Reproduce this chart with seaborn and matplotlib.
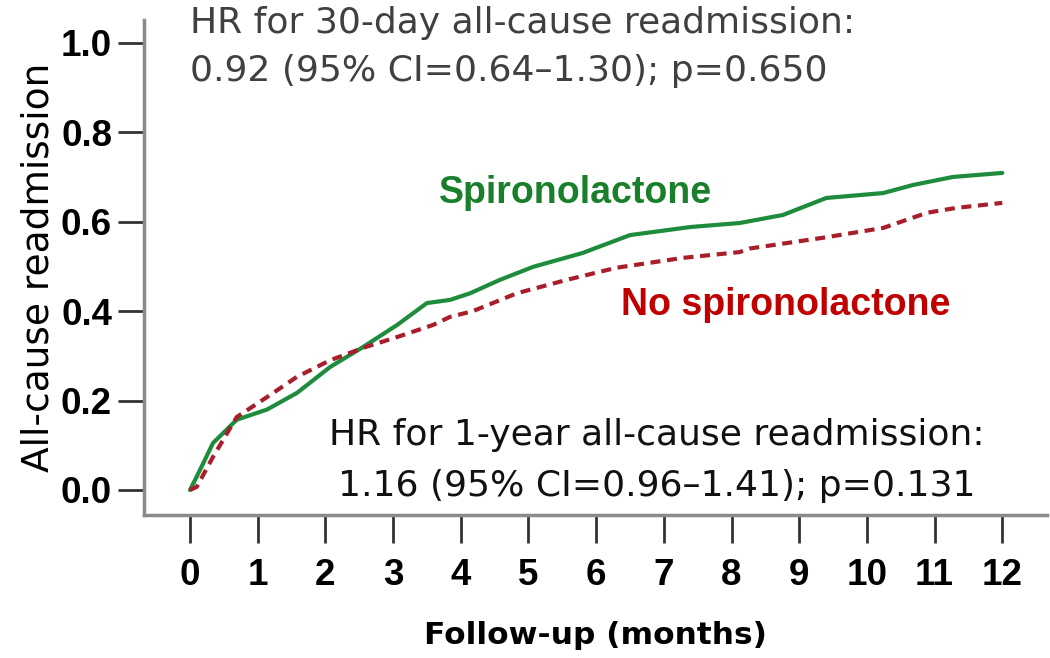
import matplotlib
matplotlib.use("Agg")
import matplotlib.pyplot as plt
import numpy as np
import pandas as pd
import seaborn as sns

# Kaplan-Meier style cumulative readmission
spiro_months = [0.0, 0.1, 0.34, 0.69, 1.14, 1.58, 2.07, 2.56, 3.06, 3.5, 3.84,
                4.14, 4.58, 5.07, 5.8, 6.5, 7.39, 8.12, 8.76, 9.4, 10.24,
                10.68, 11.27, 12.0]
spiro_rate = [0.0, 0.03, 0.105, 0.157, 0.18, 0.217, 0.275, 0.32, 0.369, 0.418,
              0.425, 0.44, 0.47, 0.499, 0.53, 0.57, 0.588, 0.597, 0.615, 0.653,
              0.664, 0.682, 0.70, 0.709]

nospiro_months = [0.0, 0.1, 0.34, 0.69, 1.14, 1.58, 2.07, 2.6, 3.06, 3.59, 3.84,
                  4.18, 4.83, 5.57, 6.3, 7.28, 8.12, 8.27, 9.35, 10.24, 10.89,
                  11.33, 12.0]
nospiro_rate = [0.0, 0.007, 0.074, 0.163, 0.208, 0.253, 0.29, 0.32, 0.342,
                0.369, 0.387, 0.40, 0.44, 0.47, 0.497, 0.519, 0.532, 0.54,
                0.564, 0.586, 0.62, 0.631, 0.642]

groups = ["Spironolactone", "No spironolactone"]
x_ticks = list(range(0, 13))
y_ticks = [0.0, 0.2, 0.4, 0.6, 0.8, 1.0]

hr_30 = ["HR for 30-day all-cause readmission:",
         "0.92 (95% CI=0.64\u20131.30); p=0.650"]
hr_1y = ["HR for 1-year all-cause readmission:",
         "1.16 (95% CI=0.96\u20131.41); p=0.131"]

df = pd.concat([
    pd.DataFrame({"month": spiro_months, "rate": spiro_rate, "group": groups[0]}),
    pd.DataFrame({"month": nospiro_months, "rate": nospiro_rate, "group": groups[1]}),
])

sns.set_style("ticks")
plt.rcParams["font.family"] = ["Liberation Sans", "DejaVu Sans"]
wide = ["DejaVu Sans"]

green = "#1e8c3c"
red = "#a81e2a"

fig = plt.figure(figsize=(10.5, 6.58), dpi=100)
ax = fig.add_axes([0.1371, 0.2173, 0.86, 0.7523])

sns.lineplot(data=df, x="month", y="rate", hue="group", style="group",
             palette={groups[0]: green, groups[1]: red},
             dashes={groups[0]: "", groups[1]: (2.4, 1.6)},
             linewidth=3, legend=False, ax=ax, estimator=None, sort=False)

ax.set_xlim(-0.68, 12.66)
ax.set_ylim(-0.056, 1.051)
ax.set_xticks(x_ticks)
ax.set_yticks(y_ticks)
ax.set_yticklabels([f"{v:.1f}" for v in y_ticks])

for s in ["top", "right"]:
    ax.spines[s].set_visible(False)
for s in ["left", "bottom"]:
    ax.spines[s].set_color("#8a8a8a")
    ax.spines[s].set_linewidth(2.5)

ax.tick_params(axis="x", bottom=True, direction="out", length=20, width=2,
               color="#333333", pad=11, labelsize=26.5, labelcolor="black")
ax.tick_params(axis="y", left=True, direction="out", length=19, width=2,
               color="#333333", pad=4, labelsize=26.5, labelcolor="black")
for lab in ax.get_xticklabels() + ax.get_yticklabels():
    lab.set_fontweight("bold")

ax.set_xlabel("Follow-up (months)", fontsize=22.5, family=wide, fontweight="bold",
              color="black", labelpad=20)
ax.set_ylabel("All-cause readmission", fontsize=27, family=wide,
              color="black", labelpad=3)

ax.text(5.70, 0.664, groups[0], color="#1a7f2a", fontsize=27, fontweight="bold",
        ha="center", va="center")
ax.text(8.8, 0.414, groups[1], color="#c00000", fontsize=27, fontweight="bold",
        ha="center", va="center")

ax.text(0.0, 1.045, hr_30[0], color="#404040", fontsize=26, family=wide,
        ha="left", va="center", clip_on=False)
ax.text(0.0, 0.937, hr_30[1], color="#404040", fontsize=26, family=wide,
        ha="left", va="center", clip_on=False)
ax.text(6.9, 0.124, hr_1y[0], color="#111111", fontsize=26, family=wide,
        ha="center", va="center")
ax.text(6.9, 0.01, hr_1y[1], color="#111111", fontsize=26, family=wide,
        ha="center", va="center")

fig.savefig("out.png", dpi=100)
